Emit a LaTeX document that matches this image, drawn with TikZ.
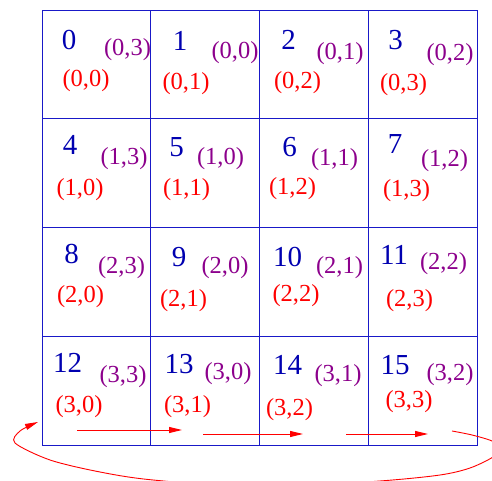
\documentclass[tikz,border=0pt]{standalone}
\usepackage{fontspec}
\setmainfont{Liberation Serif}
\usepackage{xcolor}
\usepackage{tikz}
\usetikzlibrary{arrows.meta}

\definecolor{gridblue}{RGB}{25,25,200}
\definecolor{numblue}{RGB}{0,0,176}
\definecolor{labpurple}{RGB}{140,0,140}

\begin{document}
\begin{tikzpicture}[
    x=1pt, y=1pt,
    cell/.style={draw=gridblue, line width=0.9pt, minimum width=108.8pt, minimum height=108.8pt, inner sep=0pt},
    num/.style={text=numblue, inner sep=0pt, font=\fontsize{29}{30}\selectfont},
    oldpos/.style={text=labpurple, inner sep=0pt, font=\fontsize{24.5}{26}\selectfont},
    newpos/.style={text=red, inner sep=0pt, font=\fontsize{24.5}{26}\selectfont},
    flow/.style={draw=red, line width=0.9pt, -{Triangle[length=13pt,width=6pt]}}
]
\useasboundingbox (0,0) rectangle (492,481);
\clip (0,0) rectangle (492,481);

% the 4x4 blocks
\foreach \i in {0,...,3}
  \foreach \j in {0,...,3} {
    \pgfmathtruncatemacro{\n}{4*\i+\j}
    \node[cell] (c\n) at (96.4+108.8*\j, 416.6-108.8*\i) {};
  }

% block number, skewed position, original position
\foreach \n/\nx/\ny/\px/\py/\rx/\ry in {
    0/69/441/127.5/431/86/400,     1/180/440/235/428/186/397,
    2/288.5/441/340/427/297.5/398, 3/395.5/441/450/426/403.5/396,
    4/70/336/124/322.5/80/291.5,   5/176.5/334/220.5/322.5/186.5/291,
    6/289.5/334/334.5/321/292.5/292.5, 7/395/336.5/444.5/320.5/406.5/290.5,
    8/71.5/226.5/121.5/213.5/80.5/184, 9/179/224/225/213.5/183.5/180.5,
    10/287.5/224/339.5/213.5/296/185.5, 11/394/226/443.5/217.5/409.5/180.5,
    12/67.5/118/123/104/79/74,     13/179/117/228/107/187.5/74,
    14/287.5/116/338/105/289.5/71, 15/395/116/450/106/409/79} {
  \pgfmathtruncatemacro{\ri}{\n/4}
  \pgfmathtruncatemacro{\rj}{mod(\n,4)}
  \pgfmathtruncatemacro{\pk}{mod(\n+3,4)}
  \node[num] (n\n) at (\nx,\ny) {\n};
  \node[oldpos] (p\n) at (\px,\py) {(\ri,\pk)};
  \node[newpos] (r\n) at (\rx,\ry) {(\ri,\rj)};
}

% shift along the last row
\coordinate (go12) at (77,51);
\coordinate (to13) at (182,51);
\coordinate (go13) at (203,47);
\coordinate (to14) at (303,47);
\coordinate (go14) at (346,47);
\coordinate (to15) at (428,47);
\coordinate (go15) at (452,50);
\coordinate (to12) at (38,59);

\draw[flow] (go12) -- (to13);
\draw[flow] (go13) -- (to14);
\draw[flow] (go14) -- (to15);
\draw[flow] plot[smooth] coordinates {(go15) (472,46) (492,40) (500,33) (493,24)
    (470,13) (440,6) (380,0) (265,-7) (153,1) (100,9) (50,21) (15,38) (20,50) (to12)};
\end{tikzpicture}
\end{document}
